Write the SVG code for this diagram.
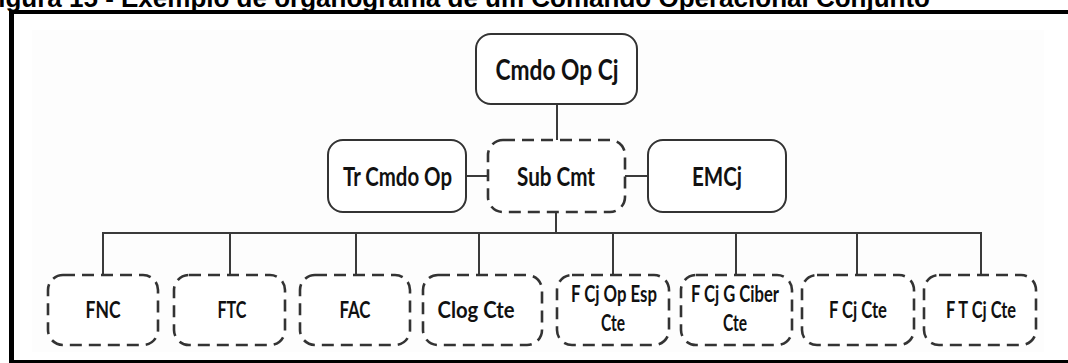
<svg xmlns="http://www.w3.org/2000/svg" width="1068" height="363" viewBox="0 0 1068 363">
  <style>
    .title { font-family: "Liberation Sans", Arial, sans-serif; font-weight: bold; font-size: 26px; fill: #000; }
    .box { fill: #ffffff; stroke: #333333; stroke-width: 2; }
    .dash { fill: #ffffff; stroke: #333333; stroke-width: 2.6; stroke-dasharray: 12 7; }
    .lbl { font-family: Lato, "Noto Sans", sans-serif; font-weight: bold; fill: #111111; text-anchor: middle; }
    .l1 { font-size: 29px; }
    .l2 { font-size: 26px; }
    .l3 { font-size: 22px; }
    .wire { fill: none; stroke: #3a3a3a; stroke-width: 2; }
    .frame { stroke: #000000; fill: none; }
  </style>

  <rect x="0" y="0" width="1068" height="363" fill="#ffffff"/>
  <!-- faint panel behind the chart -->
  <rect x="32" y="30" width="1012" height="322" fill="#fdfdfd"/>

  <!-- caption, clipped by the top edge -->
  <text class="title" x="930" y="7" text-anchor="end">Figura 15 - Exemplo de organograma de um Comando Operacional Conjunto</text>

  <!-- frame -->
  <g id="frame">
    <line class="frame" x1="9" y1="12" x2="1068" y2="12" stroke-width="4"/>
    <line class="frame" x1="11.5" y1="10" x2="11.5" y2="363" stroke-width="5"/>
    <line class="frame" x1="9" y1="361.5" x2="1068" y2="361.5" stroke-width="3"/>
  </g>

  <!-- connectors -->
  <g id="connectors">
    <line class="wire" x1="557" y1="104" x2="557" y2="140"/>
    <line class="wire" x1="466" y1="176" x2="488" y2="176"/>
    <line class="wire" x1="625" y1="176" x2="648" y2="176"/>
    <line class="wire" x1="556" y1="212" x2="556" y2="233"/>
    <line class="wire" x1="102" y1="233" x2="982" y2="233"/>
    <line class="wire" x1="103" y1="233" x2="103" y2="275"/>
    <line class="wire" x1="230" y1="233" x2="230" y2="275"/>
    <line class="wire" x1="356" y1="233" x2="356" y2="275"/>
    <line class="wire" x1="479" y1="233" x2="479" y2="275"/>
    <line class="wire" x1="613" y1="233" x2="613" y2="275"/>
    <line class="wire" x1="736" y1="233" x2="736" y2="275"/>
    <line class="wire" x1="857" y1="233" x2="857" y2="275"/>
    <line class="wire" x1="981" y1="233" x2="981" y2="275"/>
  </g>

  <!-- top level -->
  <g id="cmdo-op-cj">
    <rect class="box" x="476" y="34" width="161" height="70" rx="15"/>
    <text class="lbl l1" x="557" y="80" textLength="123" lengthAdjust="spacingAndGlyphs">Cmdo Op Cj</text>
  </g>

  <!-- second level -->
  <g id="tr-cmdo-op">
    <rect class="box" x="328" y="140" width="138" height="72" rx="15"/>
    <text class="lbl l2" x="397.5" y="186" textLength="109" lengthAdjust="spacingAndGlyphs">Tr Cmdo Op</text>
  </g>
  <g id="sub-cmt">
    <rect class="dash" x="488" y="140" width="137" height="72" rx="15"/>
    <text class="lbl l2" x="556" y="186" textLength="78" lengthAdjust="spacingAndGlyphs">Sub Cmt</text>
  </g>
  <g id="emcj">
    <rect class="box" x="648" y="140" width="138" height="72" rx="15"/>
    <text class="lbl l2" x="717" y="186" textLength="50" lengthAdjust="spacingAndGlyphs">EMCj</text>
  </g>

  <!-- components -->
  <g id="fnc">
    <rect class="dash" x="48" y="275" width="110" height="70" rx="15"/>
    <text class="lbl l3" x="103" y="318" textLength="35" lengthAdjust="spacingAndGlyphs">FNC</text>
  </g>
  <g id="ftc">
    <rect class="dash" x="174" y="275" width="111" height="70" rx="15"/>
    <text class="lbl l3" x="232" y="318" textLength="29" lengthAdjust="spacingAndGlyphs">FTC</text>
  </g>
  <g id="fac">
    <rect class="dash" x="300" y="275" width="110" height="70" rx="15"/>
    <text class="lbl l3" x="355" y="318" textLength="31" lengthAdjust="spacingAndGlyphs">FAC</text>
  </g>
  <g id="clog-cte">
    <rect class="dash" x="423" y="275" width="119" height="70" rx="15"/>
    <text class="lbl l3" x="476" y="318" textLength="77" lengthAdjust="spacingAndGlyphs">Clog Cte</text>
  </g>
  <g id="f-cj-op-esp-cte">
    <rect class="dash" x="557" y="275" width="112" height="70" rx="15"/>
    <text class="lbl l3" x="614" y="302" textLength="86" lengthAdjust="spacingAndGlyphs">F Cj Op Esp</text>
    <text class="lbl l3" x="613" y="331" textLength="24" lengthAdjust="spacingAndGlyphs">Cte</text>
  </g>
  <g id="f-cj-g-ciber-cte">
    <rect class="dash" x="681" y="275" width="111" height="70" rx="15"/>
    <text class="lbl l3" x="735" y="302" textLength="88" lengthAdjust="spacingAndGlyphs">F Cj G Ciber</text>
    <text class="lbl l3" x="735" y="331" textLength="24" lengthAdjust="spacingAndGlyphs">Cte</text>
  </g>
  <g id="f-cj-cte">
    <rect class="dash" x="802" y="275" width="112" height="70" rx="15"/>
    <text class="lbl l3" x="858" y="318" textLength="58" lengthAdjust="spacingAndGlyphs">F Cj Cte</text>
  </g>
  <g id="f-t-cj-cte">
    <rect class="dash" x="924" y="275" width="112" height="70" rx="15"/>
    <text class="lbl l3" x="981" y="318" textLength="70" lengthAdjust="spacingAndGlyphs">F T Cj Cte</text>
  </g>
</svg>
